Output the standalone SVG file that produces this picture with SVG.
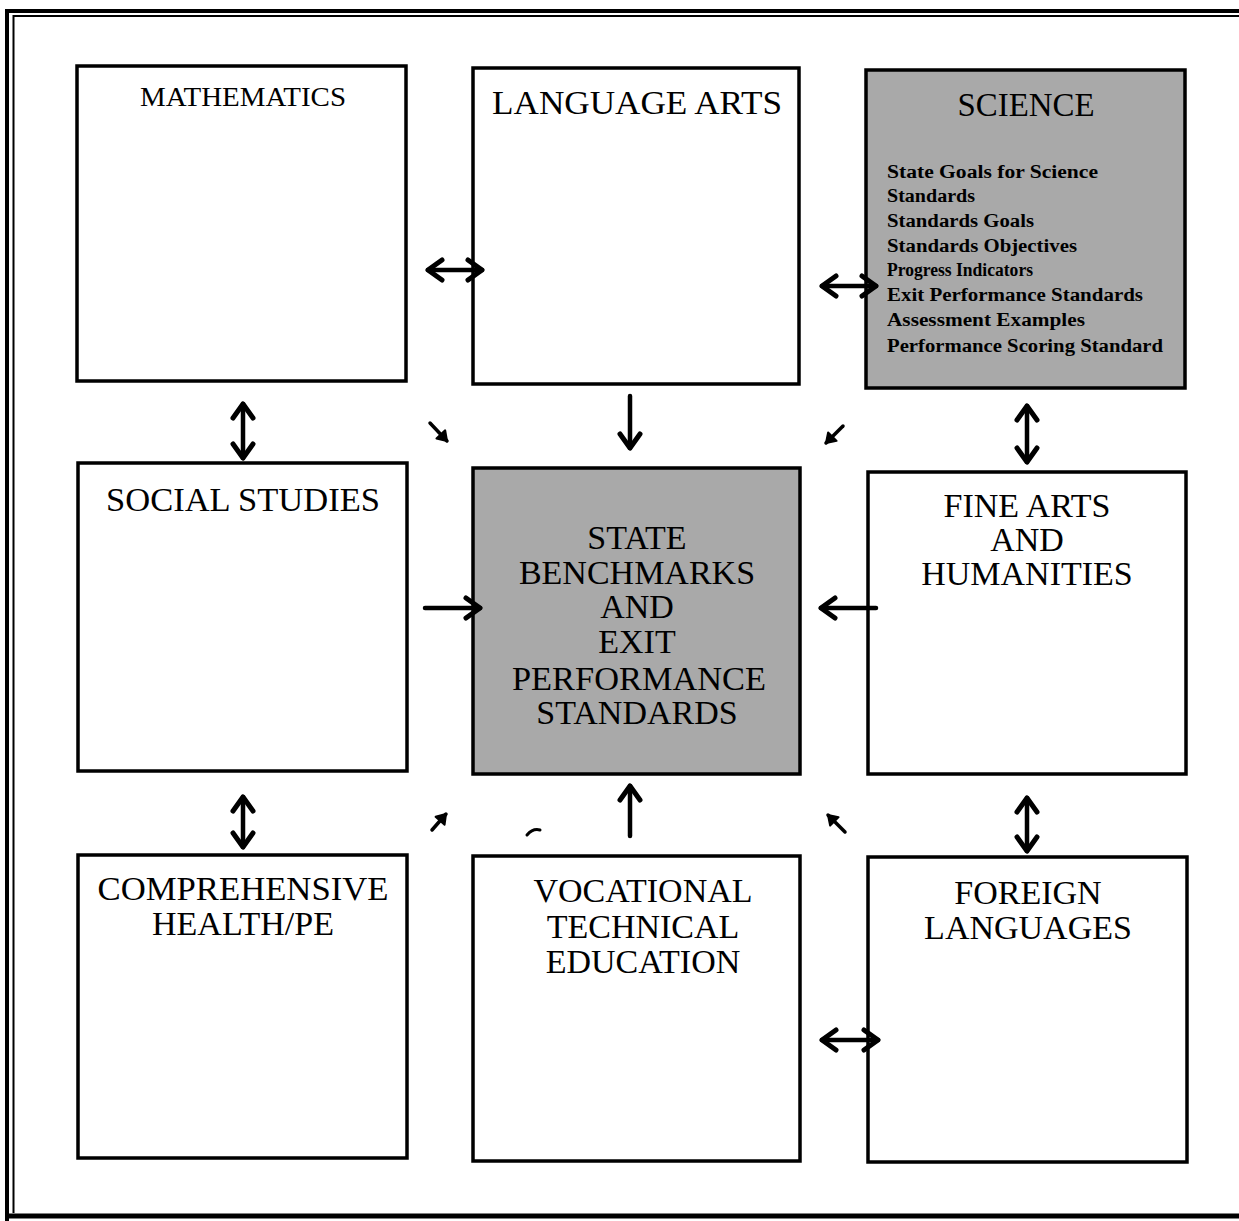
<svg xmlns="http://www.w3.org/2000/svg" width="1239" height="1221" viewBox="0 0 1239 1221">
<style>
.box{fill:#fff;stroke:#000;stroke-width:3.5}
.gray{fill:#a9a9a9;stroke:#000;stroke-width:3.5}
.t{font-family:"Liberation Serif","Times New Roman",serif;font-size:34px;fill:#000;text-anchor:middle}
.s{font-family:"Liberation Serif","Times New Roman",serif;font-size:18px;font-weight:bold;fill:#000}
.c{stroke:#000;stroke-width:4.5;fill:none;stroke-linecap:round}
</style>
<defs>
<marker id="ah" markerUnits="userSpaceOnUse" viewBox="0 0 20 26" markerWidth="20" markerHeight="26" refX="17" refY="13" orient="auto-start-reverse" overflow="visible">
<path d="M3,3 L17,13 L3,23" fill="none" stroke="#000" stroke-width="5" stroke-linecap="round" stroke-linejoin="round"/>
</marker>
<marker id="ahs" markerUnits="userSpaceOnUse" viewBox="0 0 14 16" markerWidth="14" markerHeight="16" refX="12" refY="8" orient="auto" overflow="visible">
<path d="M3,2 L12,8 L3,14 Z" fill="#000" stroke="#000" stroke-width="2" stroke-linejoin="round"/>
</marker>
</defs>
<g id="frame" fill="none" stroke="#000">
<path d="M7,1239 L7,11 L1239,11" stroke-width="4"/>
<path d="M13.5,1213 L13.5,16 L1239,16" stroke-width="2"/>
<path d="M5,1216 L1239,1216" stroke-width="5"/>
</g>
<g id="mathematics"><rect class="box" x="77" y="66" width="329" height="315"/><text class="t" x="243" y="106" style="font-size:27px" textLength="206" lengthAdjust="spacingAndGlyphs">MATHEMATICS</text></g>
<g id="language-arts"><rect class="box" x="473" y="68" width="326" height="316"/><text class="t" x="637" y="114" textLength="290" lengthAdjust="spacingAndGlyphs">LANGUAGE ARTS</text></g>
<g id="science"><rect class="gray" x="866" y="70" width="319" height="318"/><text class="t" x="1026" y="116" textLength="137" lengthAdjust="spacingAndGlyphs">SCIENCE</text>
<text class="s" x="887" y="178" textLength="211" lengthAdjust="spacingAndGlyphs">State Goals for Science</text>
<text class="s" x="887" y="202" textLength="88" lengthAdjust="spacingAndGlyphs">Standards</text>
<text class="s" x="887" y="227" textLength="147" lengthAdjust="spacingAndGlyphs">Standards Goals</text>
<text class="s" x="887" y="252" textLength="190" lengthAdjust="spacingAndGlyphs">Standards Objectives</text>
<text class="s" x="887" y="276" textLength="146" lengthAdjust="spacingAndGlyphs">Progress Indicators</text>
<text class="s" x="887" y="301" textLength="256" lengthAdjust="spacingAndGlyphs">Exit Performance Standards</text>
<text class="s" x="887" y="326" textLength="198" lengthAdjust="spacingAndGlyphs">Assessment Examples</text>
<text class="s" x="887" y="352" textLength="276" lengthAdjust="spacingAndGlyphs">Performance Scoring Standard</text>
</g>
<g id="social-studies"><rect class="box" x="78" y="463" width="329" height="308"/><text class="t" x="243" y="511" textLength="274" lengthAdjust="spacingAndGlyphs">SOCIAL STUDIES</text></g>
<g id="state-benchmarks"><rect class="gray" x="473" y="468" width="327" height="306"/>
<text class="t" x="637" y="549">STATE</text><text class="t" x="637" y="584">BENCHMARKS</text><text class="t" x="637" y="618">AND</text><text class="t" x="637" y="653">EXIT</text><text class="t" x="639" y="690" textLength="254" lengthAdjust="spacingAndGlyphs">PERFORMANCE</text><text class="t" x="637" y="724">STANDARDS</text></g>
<g id="fine-arts"><rect class="box" x="868" y="472" width="318" height="302"/><text class="t" x="1027" y="517">FINE ARTS</text><text class="t" x="1027" y="551">AND</text><text class="t" x="1027" y="585">HUMANITIES</text></g>
<g id="comprehensive-health"><rect class="box" x="78" y="855" width="329" height="303"/><text class="t" x="243" y="900" textLength="291" lengthAdjust="spacingAndGlyphs">COMPREHENSIVE</text><text class="t" x="243" y="935">HEALTH/PE</text></g>
<g id="vocational"><rect class="box" x="473" y="856" width="327" height="305"/><text class="t" x="643" y="902">VOCATIONAL</text><text class="t" x="643" y="938">TECHNICAL</text><text class="t" x="643" y="973">EDUCATION</text></g>
<g id="foreign-languages"><rect class="box" x="868" y="857" width="319" height="305"/><text class="t" x="1028" y="904">FOREIGN</text><text class="t" x="1028" y="939">LANGUAGES</text></g>
<g id="connectors">
<line class="c" x1="428" y1="270" x2="482" y2="270" marker-start="url(#ah)" marker-end="url(#ah)"/>
<line class="c" x1="822" y1="286" x2="876" y2="286" marker-start="url(#ah)" marker-end="url(#ah)"/>
<line class="c" x1="243" y1="404" x2="243" y2="458" marker-start="url(#ah)" marker-end="url(#ah)"/>
<line class="c" x1="1027" y1="406" x2="1027" y2="462" marker-start="url(#ah)" marker-end="url(#ah)"/>
<line class="c" x1="243" y1="797" x2="243" y2="847" marker-start="url(#ah)" marker-end="url(#ah)"/>
<line class="c" x1="1027" y1="798" x2="1027" y2="851" marker-start="url(#ah)" marker-end="url(#ah)"/>
<line class="c" x1="822" y1="1040" x2="878" y2="1040" marker-start="url(#ah)" marker-end="url(#ah)"/>
<line class="c" x1="630" y1="396" x2="630" y2="448" marker-end="url(#ah)"/>
<line class="c" x1="630" y1="836" x2="630" y2="786" marker-end="url(#ah)"/>
<line class="c" x1="425" y1="608" x2="480" y2="608" marker-end="url(#ah)"/>
<line class="c" x1="876" y1="608" x2="821" y2="608" marker-end="url(#ah)"/>
<line class="c" x1="430" y1="423" x2="447" y2="441" style="stroke-width:3.5" marker-end="url(#ahs)"/>
<line class="c" x1="843" y1="426" x2="826" y2="443" style="stroke-width:3.5" marker-end="url(#ahs)"/>
<line class="c" x1="432" y1="830" x2="446" y2="814" style="stroke-width:3.5" marker-end="url(#ahs)"/>
<line class="c" x1="845" y1="832" x2="828" y2="815" style="stroke-width:3.5" marker-end="url(#ahs)"/>
<path class="c" d="M527,835 Q533,828 540,830" style="stroke-width:3"/>
</g>
</svg>
